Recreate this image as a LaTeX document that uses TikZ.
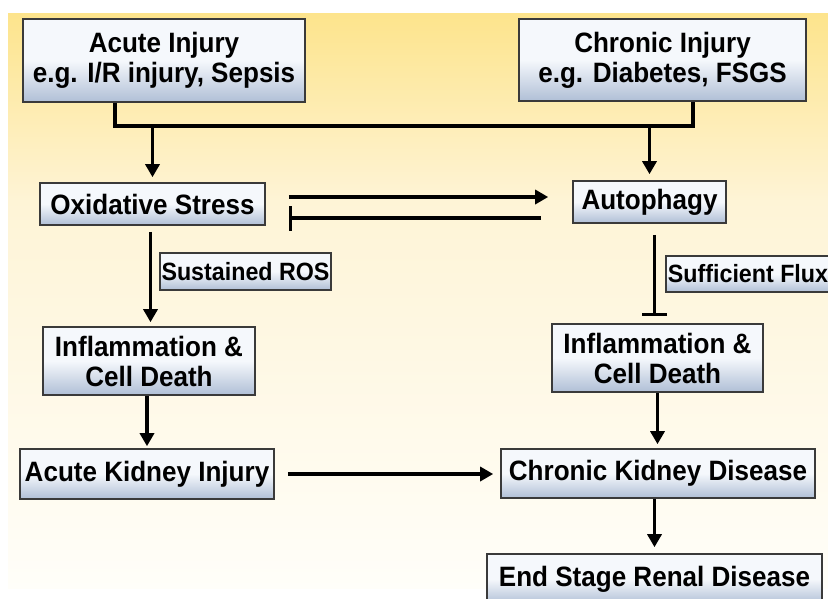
\documentclass[tikz,border=0pt]{standalone}
\usepackage{fontspec}
\setmainfont[FakeStretch=0.93]{Liberation Sans}
\usepackage{tikz}
\usetikzlibrary{arrows.meta,positioning}
\definecolor{bgtop}{HTML}{FDE48C}
\definecolor{bgmid}{HTML}{FEF4D6}
\definecolor{bgbot}{HTML}{FFFEF9}
\definecolor{boxtop}{HTML}{F5F8FC}
\definecolor{boxbot}{HTML}{B0BFD6}
\definecolor{boxline}{HTML}{3A3A3A}
\tikzset{stagebox/.style={draw=boxline, line width=1.6pt, top color=boxtop, bottom color=boxbot, middle color=boxtop,
    align=center, inner sep=0pt, font=\bfseries\fontsize{28}{30}\selectfont},
tagbox/.style={stagebox, font=\bfseries\fontsize{25}{26}\selectfont},
link/.style={line width=3.4pt},
arr/.style={link, -{Triangle[length=13pt,width=14pt]}},
inh/.style={link, -{Bar[width=25pt]}}
}

\begin{document}
\begin{tikzpicture}[x=1pt, y=-1pt]
          \useasboundingbox (0,0) rectangle (828,598);
          \fill[top color=bgtop, bottom color=bgmid] (8,13) rectangle (828,201);
          \fill[top color=bgmid, bottom color=bgbot] (8,200) rectangle (828,588);

          \node[stagebox, minimum width=282pt, minimum height=83pt] (acute_inj) at (164,60.5)   {Acute Injury\\e.g. I/R injury, Sepsis};
          \node[stagebox, minimum width=287pt, minimum height=82pt] (chron_inj) at (662.5,60)   {Chronic Injury\\e.g. Diabetes, FSGS};
          \node[stagebox, minimum width=225pt, minimum height=42pt] (ox_stress) at (152.5,204)  {Oxidative Stress};
          \node[stagebox, minimum width=153pt, minimum height=42pt] (autoph)    at (649.5,202)  {Autophagy};
          \node[stagebox, minimum width=212pt, minimum height=68pt] (infl_a)    at (149,361)    {Inflammation \&\\Cell Death};
          \node[stagebox, minimum width=211pt, minimum height=68pt] (infl_c)    at (657.5,358)  {Inflammation \&\\Cell Death};
          \node[stagebox, minimum width=254pt, minimum height=50pt] (aki)       at (147,474)    {Acute Kidney Injury};
          \node[stagebox, minimum width=314pt, minimum height=49pt] (ckd)       at (658,473.5)  {Chronic Kidney Disease};
          \node[stagebox, minimum width=335pt, minimum height=50pt] (esrd)      at (654.5,579)  {End Stage Renal Disease};
          \node[tagbox, minimum width=171pt, minimum height=37pt]   (ros)       at (245.5,271.5) {Sustained ROS};
          \node[tagbox, minimum width=164pt, minimum height=36pt]   (flux)      at (748,274)    {Sufficient Flux};

          \coordinate (split_a) at (115,126);
          \coordinate (split_c) at (693,126);
          \draw[link] (acute_inj.south -| split_a) -- (split_a) -- (split_c) -- (split_c |- chron_inj.south);
          \draw[arr, shorten >=5pt] (ox_stress |- split_a) -- (ox_stress.north);
          \draw[arr, shorten >=6pt] (autoph |- split_c) -- (autoph.north);

          \draw[arr] ([xshift=23pt,yshift=7pt]ox_stress.east) -- ([xshift=-24pt,yshift=5pt]autoph.west);
          \draw[inh] ([xshift=-31pt,yshift=-16pt]autoph.west) -- ([xshift=23pt,yshift=-14pt]ox_stress.east);

          \draw[arr, shorten <=6pt, shorten >=4pt] ([xshift=-2pt]ox_stress.south) -- ([xshift=-2pt]ox_stress.south |- infl_a.north);
          \draw[inh, shorten <=11pt, shorten >=7pt] ([xshift=5pt]autoph.south) -- ([xshift=5pt]autoph.south |- infl_c.north);
          \draw[arr, shorten >=2pt] (aki |- infl_a.south) -- (aki.north);
          \draw[arr, shorten >=4pt] (infl_c.south) -- (infl_c.south |- ckd.north);
          \draw[arr, shorten <=13pt, shorten >=7pt] (aki.east) -- (aki.east -| ckd.west);
          \draw[arr, shorten >=6pt] (esrd |- ckd.south) -- (esrd.north);
        \end{tikzpicture}
\end{document}
